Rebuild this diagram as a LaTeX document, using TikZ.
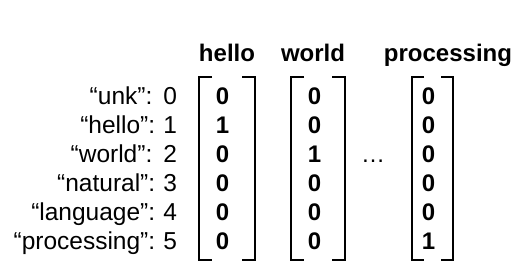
\documentclass[tikz,border=0pt]{standalone}
\usepackage{fontspec}
\setmainfont{Liberation Sans}
\frenchspacing
\usetikzlibrary{matrix,positioning}
\tikzset{
vecmat/.style={
  matrix of nodes,
  inner sep=0pt,
  row sep=0pt,
  nodes={font=\fontsize{24}{29}\selectfont\bfseries,
    inner sep=0pt,
    text height=23.5pt,
    text depth=5.5pt,
    align=center}
  },
labmat/.style={
  matrix of nodes,
  inner sep=0pt,
  row sep=0pt,
  nodes={font=\fontsize{24.5}{29}\selectfont,
    inner sep=0pt,
    text height=23.5pt,
    text depth=5.5pt,
    text width=175pt,
    align=right}
  },
head/.style={font=\fontsize{24}{29}\selectfont\bfseries,
  anchor=base, inner sep=0pt},
bracket/.style={line width=1.7pt}
}

\begin{document}
\begin{tikzpicture}[x=1pt,y=-1pt]
\useasboundingbox (0,0) rectangle (531,264);

% vocabulary index
\matrix[labmat] at (89.5,168.5) (vocab)
{
  “unk”:\hspace{0.45em}0 \\
  “hello”: 1 \\
  “world”:\hspace{0.45em}2 \\
  “natural”: 3 \\
  “language”: 4 \\
  “processing”: 5 \\
};

% one-hot vectors
\matrix[vecmat] at (226,168.5) (vhello)
{ 0 \\ 1 \\ 0 \\ 0 \\ 0 \\ 0 \\ };
\matrix[vecmat] at (318,168.5) (vworld)
{ 0 \\ 0 \\ 1 \\ 0 \\ 0 \\ 0 \\ };
\matrix[vecmat] at (432,168.5) (vproc)
{ 0 \\ 0 \\ 0 \\ 0 \\ 0 \\ 1 \\ };

\node[head] (hhello) at (227,62) {hello};
\node[head] (hworld) at (313,62) {world};
\node[head] (hproc) at (448,62) {processing};

\node[font=\fontsize{24}{29}\selectfont, anchor=base, inner sep=0pt]
  (dots) at (373,163) {…};

\begin{scope}
\coordinate (tl) at ([xshift=-27pt,yshift=4.5pt]vhello.north);
\coordinate (bl) at ([xshift=-27pt,yshift=-4.5pt]vhello.south);
\coordinate (tr) at ([xshift=29pt,yshift=4.5pt]vhello.north);
\coordinate (br) at ([xshift=29pt,yshift=-4.5pt]vhello.south);

\draw[bracket] ([xshift=13pt]tl) -- (tl) -- (bl) -- ([xshift=13pt]bl);
\draw[bracket] ([xshift=-13pt]tr) -- (tr) -- (br) -- ([xshift=-13pt]br);
\end{scope}

\begin{scope}
\coordinate (tl) at ([xshift=-27pt,yshift=4.5pt]vworld.north);
\coordinate (bl) at ([xshift=-27pt,yshift=-4.5pt]vworld.south);
\coordinate (tr) at ([xshift=27pt,yshift=4.5pt]vworld.north);
\coordinate (br) at ([xshift=27pt,yshift=-4.5pt]vworld.south);

\draw[bracket] ([xshift=13pt]tl) -- (tl) -- (bl) -- ([xshift=13pt]bl);
\draw[bracket] ([xshift=-13pt]tr) -- (tr) -- (br) -- ([xshift=-13pt]br);
\end{scope}

\begin{scope}
\coordinate (tl) at ([xshift=-20pt,yshift=4.5pt]vproc.north);
\coordinate (bl) at ([xshift=-20pt,yshift=-4.5pt]vproc.south);
\coordinate (tr) at ([xshift=21pt,yshift=4.5pt]vproc.north);
\coordinate (br) at ([xshift=21pt,yshift=-4.5pt]vproc.south);

\draw[bracket] ([xshift=12pt]tl) -- (tl) -- (bl) -- ([xshift=12pt]bl);
\draw[bracket] ([xshift=-12pt]tr) -- (tr) -- (br) -- ([xshift=-12pt]br);
\end{scope}

\end{tikzpicture}
\end{document}
